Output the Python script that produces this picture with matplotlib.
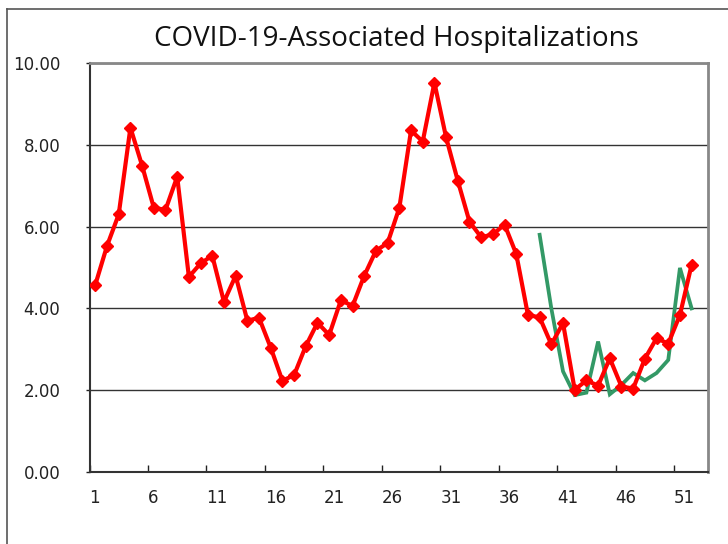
import matplotlib
matplotlib.use("Agg")
import matplotlib.pyplot as plt
from matplotlib.lines import Line2D

# weekly rates
weeks = list(range(1, 53))
rates = [4.58, 5.53, 6.30, 8.42, 7.49, 6.46, 6.41, 7.22, 4.77, 5.10,
         5.29, 4.16, 4.80, 3.70, 3.77, 3.04, 2.23, 2.37, 3.08, 3.65,
         3.35, 4.20, 4.06, 4.80, 5.41, 5.60, 6.46, 8.35, 8.08, 9.52,
         8.18, 7.12, 6.12, 5.74, 5.81, 6.05, 5.33, 3.84, 3.78, 3.12,
         3.64, 2.01, 2.24, 2.11, 2.78, 2.09, 2.04, 2.77, 3.27, 3.14,
         3.84, 5.07]

green_weeks = list(range(39, 53))
green_rates = [5.80, 4.00, 2.46, 1.88, 1.94, 3.19, 1.90, 2.13, 2.42, 2.24,
               2.42, 2.74, 4.99, 4.00]

y_ticks = [0, 2, 4, 6, 8, 10]
x_tick_labels = [str(w) for w in range(1, 52, 5)]

fig = plt.figure(figsize=(7.28, 5.44), dpi=100)
ax = fig.add_axes([89.5 / 728, 72 / 544, 618.5 / 728, 409 / 544])

ax.plot(green_weeks, green_rates, color="#339966", linewidth=2.7, zorder=3,
        solid_joinstyle="miter")
ax.plot(weeks, rates, color="#ff0000", linewidth=3, marker="D", markersize=6.3,
        markeredgecolor="#ff0000", zorder=4)

ax.set_xlim(0.5, 53.4)
ax.set_ylim(0, 10)

ax.set_yticks(y_ticks)
ax.set_yticklabels(["%.2f" % v for v in y_ticks])
ax.set_xticks([w - 0.5 for w in range(1, 52, 5)])
ax.set_xticklabels(x_tick_labels)

ax.tick_params(axis="y", direction="out", length=3, width=1, pad=18,
               labelsize=12, colors="#222222")
ax.tick_params(axis="x", direction="in", length=5, width=1, pad=12,
               labelsize=12, colors="#222222")
for lbl in ax.get_xticklabels():
    lbl.set_horizontalalignment("left")

ax.grid(axis="y", color="#333333", linewidth=1)
ax.set_axisbelow(True)

for side in ["top", "right"]:
    ax.spines[side].set_color("#888888")
    ax.spines[side].set_linewidth(2)
for side in ["left", "bottom"]:
    ax.spines[side].set_color("#333333")
    ax.spines[side].set_linewidth(1.5)

fig.text(0.545, 1 - 39 / 544, "COVID-19-Associated Hospitalizations",
         ha="center", va="center", fontsize=20, family="Open Sans", color="#111111")

# outer chart border (left and top edges only are visible)
fig.add_artist(Line2D([7 / 728, 7 / 728], [0, 1 - 9 / 544], color="#555555", linewidth=1.2))
fig.add_artist(Line2D([7 / 728, 1], [1 - 9 / 544, 1 - 9 / 544], color="#555555", linewidth=1.2))

fig.savefig("out.png", dpi=100)
